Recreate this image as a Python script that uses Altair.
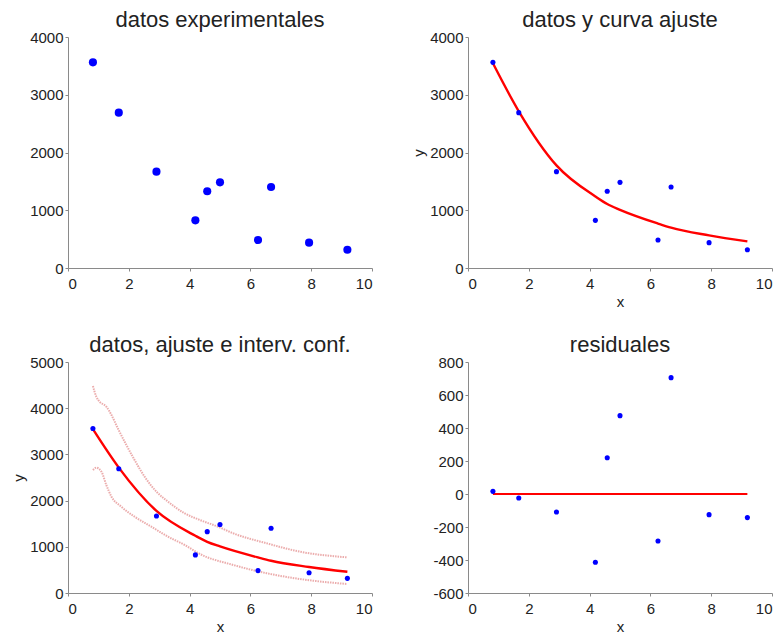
import altair as alt
import pandas as pd

# ---- data ----
x_data = [0.82, 1.67, 2.91, 4.19, 4.58, 5.00, 6.25, 6.68, 7.93, 9.19]
y_data = [3561, 2690, 1668, 825, 1328, 1483, 485, 1403, 439, 317]
residuals = [16, -24, -109, -414, 220, 475, -285, 705, -125, -143]
fit_y = [3545, 2714, 1777, 1239, 1108, 1008, 770, 698, 564, 460]

upper_x = [0.82, 0.93, 1.04, 1.26, 1.43, 1.64, 1.92, 2.19, 2.52, 2.91, 3.29, 3.84, 4.34, 4.93, 5.44, 6.54, 7.63, 9.17]
upper_y = [4481, 4250, 4141, 4033, 3853, 3564, 3203, 2879, 2518, 2193, 1977, 1724, 1580, 1436, 1291, 1075, 895, 772]
lower_x = [0.82, 0.93, 1.10, 1.26, 1.43, 1.75, 2.19, 2.74, 3.29, 3.84, 4.34, 5.44, 6.54, 7.63, 9.17]
lower_y = [2662, 2713, 2626, 2338, 2085, 1869, 1652, 1436, 1219, 1039, 844, 606, 426, 303, 195]

x_ticks = [0, 2, 4, 6, 8, 10]
y_ticks_a = [0, 1000, 2000, 3000, 4000]
y_ticks_b = [0, 1000, 2000, 3000, 4000, 5000]
y_ticks_r = [-600, -400, -200, 0, 200, 400, 600, 800]

titles = ["datos experimentales", "datos y curva ajuste",
          "datos, ajuste e interv. conf.", "residuales"]

FONT = "Liberation Sans"
W, H = 304, 231

pts = pd.DataFrame({"x": x_data, "y": y_data, "r": residuals, "f": fit_y})
up = pd.DataFrame({"x": upper_x, "y": upper_y})
lo = pd.DataFrame({"x": lower_x, "y": lower_y})
zero = pd.DataFrame({"x": [x_data[0], x_data[-1]], "y": [0, 0]})

LABEL = "'' + datum.value"


def xenc(show_title):
    return alt.X("x:Q", scale=alt.Scale(domain=[0, 10], nice=False),
                 axis=alt.Axis(values=x_ticks, title="x", labelExpr=LABEL,
                               labelOverlap=False,
                               titleOpacity=1 if show_title else 0))


def yenc(field, dom, ticks, show_title):
    return alt.Y(f"{field}:Q", scale=alt.Scale(domain=dom, nice=False),
                 axis=alt.Axis(values=ticks, title="y", labelExpr=LABEL,
                               labelOverlap=False,
                               titleOpacity=1 if show_title else 0))


BLUE = "#0000ff"
RED = "#ff0000"
BAND = "#e07f7f"

# panel 1
p1 = alt.Chart(pts).mark_circle(color=BLUE, opacity=1, size=66).encode(
    x=xenc(False), y=yenc("y", [0, 4000], y_ticks_a, False)
).properties(width=W, height=H, title=titles[0])

# panel 2
d2 = alt.Chart(pts).mark_circle(color=BLUE, opacity=1, size=26).encode(
    x=xenc(True), y=yenc("y", [0, 4000], y_ticks_a, True))
f2 = alt.Chart(pts).mark_line(color=RED, strokeWidth=2.4, interpolate="monotone").encode(
    x=xenc(True), y=yenc("f", [0, 4000], y_ticks_a, True))
p2 = alt.layer(f2, d2).properties(width=W, height=H, title=titles[1])

# panel 3
d3 = alt.Chart(pts).mark_circle(color=BLUE, opacity=1, size=26).encode(
    x=xenc(True), y=yenc("y", [0, 5000], y_ticks_b, True))
f3 = alt.Chart(pts).mark_line(color=RED, strokeWidth=2.4, interpolate="monotone").encode(
    x=xenc(True), y=yenc("f", [0, 5000], y_ticks_b, True))
u3 = alt.Chart(up).mark_line(color=BAND, strokeWidth=2, strokeDash=[1.5, 1],
                             opacity=0.65, interpolate="monotone").encode(
    x=xenc(True), y=yenc("y", [0, 5000], y_ticks_b, True))
l3 = alt.Chart(lo).mark_line(color=BAND, strokeWidth=2, strokeDash=[1.5, 1],
                             opacity=0.65, interpolate="monotone").encode(
    x=xenc(True), y=yenc("y", [0, 5000], y_ticks_b, True))
p3 = alt.layer(u3, l3, f3, d3).properties(width=W, height=H, title=titles[2])

# panel 4
z4 = alt.Chart(zero).mark_line(color=RED, strokeWidth=2).encode(
    x=xenc(True), y=yenc("y", [-600, 800], y_ticks_r, False))
d4 = alt.Chart(pts).mark_circle(color=BLUE, opacity=1, size=26).encode(
    x=xenc(True), y=yenc("r", [-600, 800], y_ticks_r, False))
p4 = alt.layer(z4, d4).properties(width=W, height=H, title=titles[3])

chart = alt.concat(p1, p2, p3, p4, columns=2,
                   spacing={"row": 25, "column": 38}).configure_view(
    stroke=None
).configure_axis(
    grid=False, domainColor="#8a8a8a", tickColor="#8a8a8a", tickSize=3,
    labelColor="#222222", labelFont=FONT, labelFontSize=15,
    titleColor="#222222", titleFont=FONT, titleFontSize=15,
    titleFontWeight="normal"
).configure_axisY(
    labelPadding=2, minExtent=39, maxExtent=39, titlePadding=3
).configure_axisX(
    labelPadding=5, titlePadding=3
).configure_title(
    font=FONT, fontSize=22, fontWeight="normal", color="#222222",
    anchor="middle", offset=-2
).properties(padding={"left": 3, "top": 1, "right": 0, "bottom": 0})

chart.save("out.html", embed_options={"renderer": "svg", "actions": False})
